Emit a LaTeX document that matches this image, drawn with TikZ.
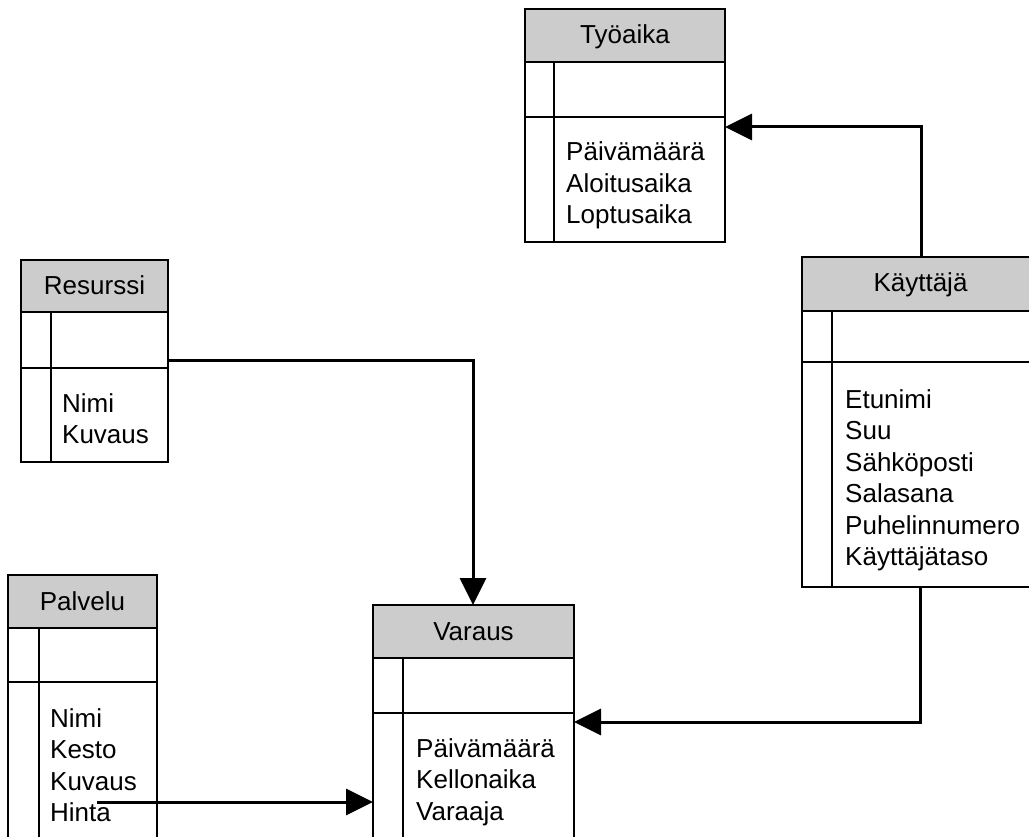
\documentclass[tikz,border=0pt]{standalone}
\usepackage{fontspec}
\setmainfont{Liberation Sans}
\usetikzlibrary{arrows.meta}
\definecolor{hdr}{RGB}{204,204,204}
\tikzset{
  box/.style={draw=black, line width=2pt, fill=white, inner sep=0pt, outer sep=0pt},
  hdrbox/.style={draw=black, line width=2pt, fill=hdr, inner sep=0pt, outer sep=0pt},
  sep/.style={draw=black, line width=2pt},
  title/.style={font=\fontsize{26}{31.5}\selectfont, anchor=base, inner sep=0pt},
  attr/.style={font=\fontsize{26}{31.5}\selectfont, anchor=base west, inner sep=0pt},
  conn/.style={line width=3pt, -{Triangle[length=27pt,width=26pt]}, line join=miter},
}
\begin{document}
\begin{tikzpicture}[x=1pt, y=-1pt]
\useasboundingbox (0,0) rectangle (1029,837);
\clip (0,0) rectangle (1029,837);

% Tyoaika
\node[box, anchor=north west, minimum width=200pt, minimum height=233pt] (tyo) at (525,9) {};
\node[hdrbox, anchor=north west, minimum width=200pt, minimum height=53pt] (tyoh) at (525,9) {};
\draw[sep] (525,117) -- (725,117);
\draw[sep] (554,62) -- (554,242);
\node[title] (tyot) at (625,44) {Työaika};
\node[attr] (tyo1) at (566,161) {Päivämäärä};
\node[attr] (tyo2) at (566,192.5) {Aloitusaika};
\node[attr] (tyo3) at (566,224) {Loptusaika};

% Resurssi
\node[box, anchor=north west, minimum width=147pt, minimum height=202pt] (res) at (21,260) {};
\node[hdrbox, anchor=north west, minimum width=147pt, minimum height=52pt] (resh) at (21,260) {};
\draw[sep] (21,368) -- (168,368);
\draw[sep] (51,312) -- (51,462);
\node[title] (rest) at (94.5,295) {Resurssi};
\node[attr] (res1) at (62,412) {Nimi};
\node[attr] (res2) at (62,443.5) {Kuvaus};

% Kayttaja
\node[box, anchor=north west, minimum width=237pt, minimum height=330pt] (kay) at (802,257) {};
\node[hdrbox, anchor=north west, minimum width=237pt, minimum height=54pt] (kayh) at (802,257) {};
\draw[sep] (802,362) -- (1039,362);
\draw[sep] (832,311) -- (832,587);
\node[title] (kayt) at (920.5,292) {Käyttäjä};
\node[attr] (kay1) at (845,408) {Etunimi};
\node[attr] (kay2) at (845,439.5) {Suu};
\node[attr] (kay3) at (845,471) {Sähköposti};
\node[attr] (kay4) at (845,502.5) {Salasana};
\node[attr] (kay5) at (845,534) {Puhelinnumero};
\node[attr] (kay6) at (845,565.5) {Käyttäjätaso};

% Palvelu
\node[box, anchor=north west, minimum width=149pt, minimum height=300pt] (pal) at (8,575) {};
\node[hdrbox, anchor=north west, minimum width=149pt, minimum height=53pt] (palh) at (8,575) {};
\draw[sep] (8,682) -- (157,682);
\draw[sep] (39,628) -- (39,875);
\node[title] (palt) at (82.5,610) {Palvelu};
\node[attr] (pal1) at (50,727) {Nimi};
\node[attr] (pal2) at (50,758.5) {Kesto};
\node[attr] (pal3) at (50,790) {Kuvaus};
\node[attr] (pal4) at (50,821.5) {Hinta};

% Varaus
\node[box, anchor=north west, minimum width=201pt, minimum height=270pt] (var) at (373,605) {};
\node[hdrbox, anchor=north west, minimum width=201pt, minimum height=53pt] (varh) at (373,605) {};
\draw[sep] (373,713) -- (574,713);
\draw[sep] (403,658) -- (403,875);
\node[title] (vart) at (473.5,640) {Varaus};
\node[attr] (var1) at (416,757) {Päivämäärä};
\node[attr] (var2) at (416,788.5) {Kellonaika};
\node[attr] (var3) at (416,820) {Varaaja};

% helper coordinates
\coordinate (kx) at (921,0);
\coordinate (ty) at (0,127);
\coordinate (ry) at (0,360);
\coordinate (vx) at (473,0);
\coordinate (kbx) at (920,0);
\coordinate (vy) at (0,722);
\coordinate (ps) at (97,802);

% connectors
\draw[conn] (kay.north -| kx) |- (tyo.east |- ty);
\draw[conn] (res.east |- ry) -| (var.north -| vx);
\draw[conn] (kay.south -| kbx) |- (var.east |- vy);
\draw[conn] (ps) -- (var.west |- ps);
\end{tikzpicture}
\end{document}
